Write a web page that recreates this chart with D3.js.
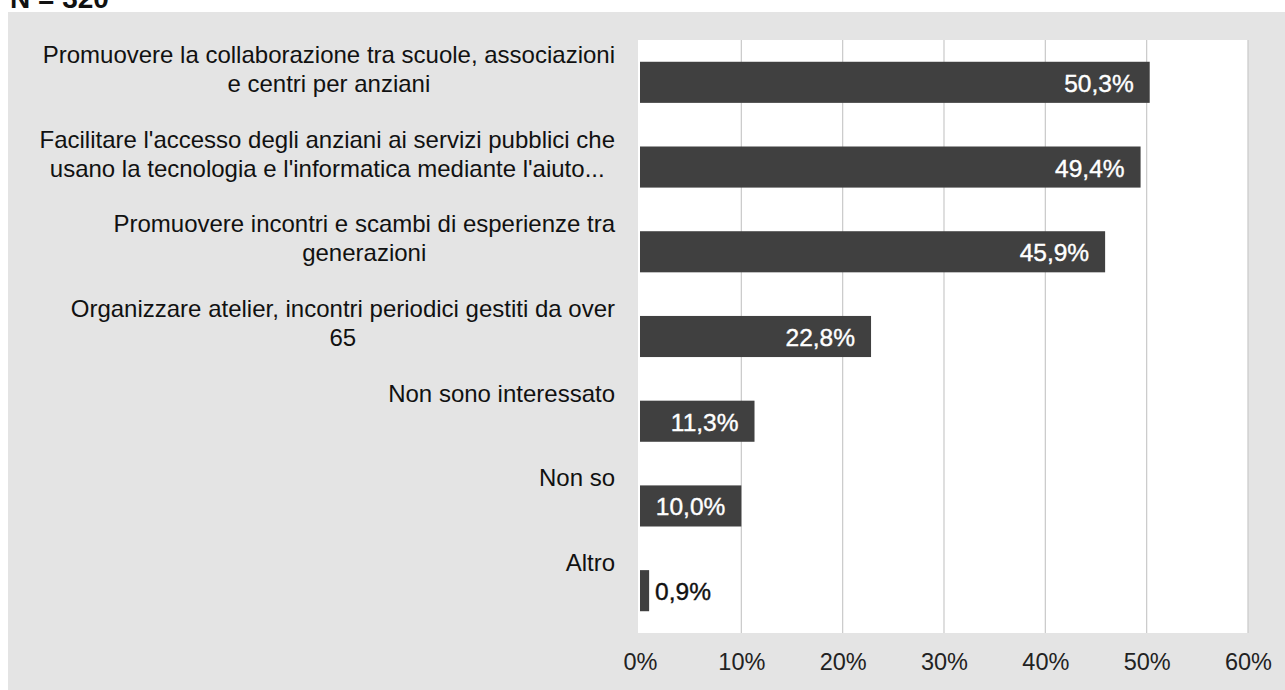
<!DOCTYPE html>
<html><head><meta charset="utf-8">
<script src="https://cdn.jsdelivr.net/npm/d3@7"></script>
<style>body{margin:0;background:#fff;overflow:hidden}svg{display:block}</style>
</head><body>
<svg id="c" width="1285" height="690"></svg>
<script>
const categories = [
  ["Promuovere la collaborazione tra scuole, associazioni", "e centri per anziani"],
  ["Facilitare l'accesso degli anziani ai servizi pubblici che", "usano la tecnologia e l'informatica mediante l'aiuto..."],
  ["Promuovere incontri e scambi di esperienze tra", "generazioni"],
  ["Organizzare atelier, incontri periodici gestiti da over", "65"],
  ["Non sono interessato"],
  ["Non so"],
  ["Altro"]
];
const values = [50.3, 49.4, 45.9, 22.8, 11.3, 10.0, 0.9];
const valueLabels = ["50,3%", "49,4%", "45,9%", "22,8%", "11,3%", "10,0%", "0,9%"];
const tickValues = [0, 10, 20, 30, 40, 50, 60];
const tickLabels = ["0%", "10%", "20%", "30%", "40%", "50%", "60%"];
const noteText = "N = 320";

const svg = d3.select("#c");
const font = "'Liberation Sans', Arial, sans-serif";

// background panel
svg.append("rect").attr("x", 0).attr("y", 0).attr("width", 1285).attr("height", 690).attr("fill", "#ffffff");
svg.append("rect").attr("x", 8).attr("y", 12).attr("width", 1277).attr("height", 678).attr("fill", "#e4e4e4");
svg.append("text").attr("x", 10).attr("y", 8).attr("font-family", font).attr("font-weight", "bold")
  .attr("font-size", 28).attr("fill", "#111").text(noteText);

const x = d3.scaleLinear().domain([0, 60]).range([640, 1248]);
const idx = d3.range(categories.length);
const y = d3.scaleBand().domain(idx).range([40, 633]).paddingInner(0.515).paddingOuter(0.257);

// plot area
svg.append("rect").attr("x", x(0) - 2).attr("y", 40).attr("width", x(60) - x(0) + 2).attr("height", 593).attr("fill", "#ffffff");

// gridlines
svg.append("g").selectAll("line").data(tickValues.slice(1)).join("line")
  .attr("x1", d => x(d)).attr("x2", d => x(d)).attr("y1", 40).attr("y2", 633)
  .attr("stroke", "#c9c9c9").attr("stroke-width", 1.2);

// bars
svg.append("g").selectAll("rect").data(values).join("rect")
  .attr("x", x(0)).attr("y", (d, i) => y(i))
  .attr("width", d => x(d) - x(0)).attr("height", y.bandwidth())
  .attr("fill", "#404040");

// value labels
svg.append("g").selectAll("text").data(values).join("text")
  .attr("font-family", font).attr("font-size", 24.5)
  .attr("dominant-baseline", "central")
  .attr("y", (d, i) => y(i) + y.bandwidth() / 2 + 1)
  .attr("x", d => d < 5 ? x(d) + 6 : x(d) - 16)
  .attr("text-anchor", d => d < 5 ? "start" : "end")
  .attr("fill", d => d < 5 ? "#111" : "#ffffff")
  .attr("stroke", d => d < 5 ? "#111" : "#ffffff").attr("stroke-width", 0.4)
  .text((d, i) => valueLabels[i]);

// category labels
const labRight = 615;
idx.forEach(i => {
  const cy = y(i) + y.bandwidth() / 2;
  const g = svg.append("g");
  const texts = g.selectAll("text").data(categories[i]).join("text")
    .attr("font-family", font).attr("font-size", 24).attr("fill", "#111")
    .attr("dominant-baseline", "central")
    .attr("y", (d, j) => cy - 28 + j * 29)
    .text(d => d);
  let w = 0;
  texts.each(function () { w = Math.max(w, this.getComputedTextLength()); });
  texts.attr("text-anchor", "middle").attr("x", labRight - w / 2);
});

// axis
const axis = d3.axisBottom(x).tickValues(tickValues).tickFormat((d, i) => tickLabels[i]).tickSize(0).tickPadding(20);
const ag = svg.append("g").attr("transform", "translate(0,633)").call(axis);
ag.select(".domain").remove();
ag.selectAll("text").attr("font-family", font).attr("font-size", 23.5).attr("fill", "#222");
</script>
</body></html>
